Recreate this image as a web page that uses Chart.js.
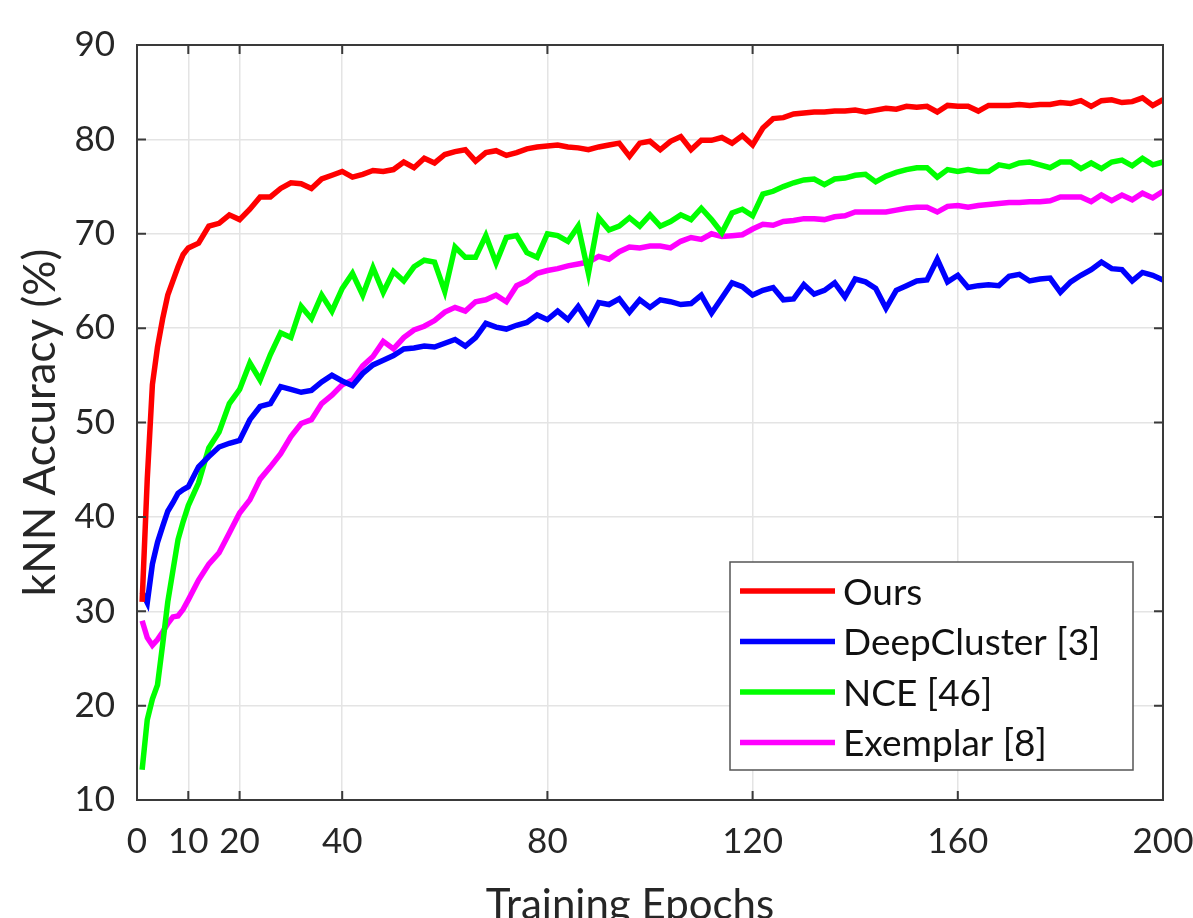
<!DOCTYPE html>
<html>
<head>
<meta charset="utf-8">
<title>kNN Accuracy vs Training Epochs</title>
<script src="https://cdn.jsdelivr.net/npm/chart.js@4.4.1/dist/chart.umd.min.js"></script>
<style>
    html, body { margin: 0; padding: 0; background: #ffffff; }
    #wrap { width: 1193px; height: 918px; position: relative; }
</style>
</head>
<body>
<div id="wrap"><canvas id="knnChart"></canvas></div>
<script>
const epochs = [1, 2, 3, 4, 5, 6, 7, 8, 9, 10,
    12, 14, 16, 18, 20, 22, 24, 26, 28, 30, 32, 34, 36, 38, 40, 42, 44, 46, 48, 50,
    52, 54, 56, 58, 60, 62, 64, 66, 68, 70, 72, 74, 76, 78, 80, 82, 84, 86, 88, 90,
    92, 94, 96, 98, 100, 102, 104, 106, 108, 110, 112, 114, 116, 118, 120, 122, 124, 126, 128, 130,
    132, 134, 136, 138, 140, 142, 144, 146, 148, 150, 152, 154, 156, 158, 160, 162, 164, 166, 168, 170,
    172, 174, 176, 178, 180, 182, 184, 186, 188, 190, 192, 194, 196, 198, 200];

const xTicks = [0, 10, 20, 40, 80, 120, 160, 200];
const xTitle = 'Training Epochs';
const yTitle = 'kNN Accuracy (%)';
const seriesLabels = ['Ours', 'DeepCluster [3]', 'NCE [46]', 'Exemplar [8]'];

const ours = [31.0, 44.0, 54.0, 58.0, 61.0, 63.5, 65.0, 66.5, 67.8, 68.5,
    69.0, 70.8, 71.1, 72.0, 71.5, 72.6, 73.9, 73.9, 74.8, 75.4, 75.3, 74.8, 75.8, 76.2, 76.6, 76.0, 76.3, 76.7, 76.6, 76.8,
    77.6, 77.0, 78.0, 77.5, 78.4, 78.7, 78.9, 77.7, 78.6, 78.8, 78.3, 78.6, 79.0, 79.2, 79.3, 79.4, 79.2, 79.1, 78.9, 79.2,
    79.4, 79.6, 78.2, 79.6, 79.8, 78.9, 79.8, 80.3, 78.9, 79.9, 79.9, 80.2, 79.6, 80.4, 79.4, 81.2, 82.2, 82.3, 82.7, 82.8,
    82.9, 82.9, 83.0, 83.0, 83.1, 82.9, 83.1, 83.3, 83.2, 83.5, 83.4, 83.5, 82.9, 83.6, 83.5, 83.5, 83.0, 83.6, 83.6, 83.6,
    83.7, 83.6, 83.7, 83.7, 83.9, 83.8, 84.1, 83.5, 84.1, 84.2, 83.9, 84.0, 84.4, 83.6, 84.2];

const deepCluster = [32.0, 30.9, 35.0, 37.3, 39.0, 40.6, 41.5, 42.5, 42.9, 43.2,
    45.3, 46.4, 47.4, 47.8, 48.1, 50.3, 51.7, 52.0, 53.8, 53.5, 53.2, 53.4, 54.3, 55.0, 54.4, 53.9, 55.2, 56.1, 56.6, 57.1,
    57.8, 57.9, 58.1, 58.0, 58.4, 58.8, 58.1, 59.0, 60.5, 60.1, 59.9, 60.3, 60.6, 61.4, 60.9, 61.8, 60.9, 62.3, 60.6, 62.7,
    62.5, 63.1, 61.7, 63.0, 62.2, 63.0, 62.8, 62.5, 62.6, 63.5, 61.6, 63.2, 64.8, 64.4, 63.5, 64.0, 64.3, 63.0, 63.1, 64.6,
    63.6, 64.0, 64.8, 63.3, 65.2, 64.9, 64.2, 62.1, 64.0, 64.5, 65.0, 65.1, 67.3, 64.9, 65.6, 64.3, 64.5, 64.6, 64.5, 65.5,
    65.7, 65.0, 65.2, 65.3, 63.8, 64.9, 65.6, 66.2, 67.0, 66.3, 66.2, 65.0, 65.9, 65.6, 65.1];

const nce = [13.2, 18.5, 20.7, 22.2, 26.5, 31.0, 34.3, 37.6, 39.5, 41.2,
    43.6, 47.3, 49.0, 52.0, 53.5, 56.3, 54.5, 57.2, 59.5, 59.0, 62.3, 61.0, 63.5, 61.8, 64.2, 65.8, 63.5, 66.4, 63.8, 66.0,
    65.0, 66.5, 67.2, 67.0, 63.9, 68.6, 67.5, 67.5, 69.8, 66.9, 69.6, 69.8, 68.0, 67.5, 70.0, 69.8, 69.2, 70.8, 65.8, 71.7,
    70.4, 70.8, 71.7, 70.8, 72.0, 70.8, 71.3, 72.0, 71.5, 72.7, 71.5, 70.1, 72.2, 72.6, 71.9, 74.2, 74.5, 75.0, 75.4, 75.7,
    75.8, 75.2, 75.8, 75.9, 76.2, 76.3, 75.5, 76.1, 76.5, 76.8, 77.0, 77.0, 76.0, 76.8, 76.6, 76.8, 76.6, 76.6, 77.3, 77.1,
    77.5, 77.6, 77.3, 77.0, 77.6, 77.6, 76.9, 77.5, 76.9, 77.6, 77.8, 77.2, 78.0, 77.3, 77.6];

const exemplar = [29.0, 27.2, 26.4, 27.0, 27.8, 28.7, 29.4, 29.5, 30.2, 31.2,
    33.3, 35.0, 36.2, 38.3, 40.4, 41.8, 44.0, 45.3, 46.7, 48.5, 49.9, 50.3, 52.0, 52.9, 54.0, 54.5, 56.0, 57.0, 58.6, 57.8,
    59.0, 59.8, 60.2, 60.8, 61.7, 62.2, 61.8, 62.8, 63.0, 63.5, 62.8, 64.5, 65.0, 65.8, 66.1, 66.3, 66.6, 66.8, 67.0, 67.6,
    67.3, 68.1, 68.6, 68.5, 68.7, 68.7, 68.5, 69.2, 69.6, 69.4, 70.0, 69.7, 69.8, 69.9, 70.5, 71.0, 70.9, 71.3, 71.4, 71.6,
    71.6, 71.5, 71.8, 71.9, 72.3, 72.3, 72.3, 72.3, 72.5, 72.7, 72.8, 72.8, 72.3, 72.9, 73.0, 72.8, 73.0, 73.1, 73.2, 73.3,
    73.3, 73.4, 73.4, 73.5, 73.9, 73.9, 73.9, 73.4, 74.1, 73.5, 74.1, 73.6, 74.3, 73.8, 74.5];

const seriesValues = [ours, deepCluster, nce, exemplar];
const seriesColors = ['#ff0000', '#0000ff', '#00ff00', '#ff00ff'];

const FONT = 'Lato, "Open Sans", "DejaVu Sans", sans-serif';
const TEXT_COLOR = '#262626';
const AXIS_COLOR = '#3a3a3a';

const datasets = seriesValues.map((vals, i) => ({
    label: seriesLabels[i],
    data: epochs.map((e, j) => ({ x: e, y: vals[j] })),
    borderColor: seriesColors[i],
    backgroundColor: seriesColors[i],
    borderWidth: 5.5,
    pointRadius: 0,
    tension: 0,
    fill: false
}));

// MATLAB style box: top/right border, inward ticks, x label, legend inside the axes
const boxPlugin = {
    id: 'boxPlugin',
    afterDraw(chart) {
        const { ctx, chartArea: a, scales } = chart;
        ctx.save();
        ctx.strokeStyle = AXIS_COLOR;
        ctx.lineWidth = 2;
        ctx.strokeRect(a.left, a.top, a.right - a.left, a.bottom - a.top);

        const tl = 9;
        ctx.beginPath();
        xTicks.forEach(v => {
            const px = scales.x.getPixelForValue(v);
            ctx.moveTo(px, a.bottom); ctx.lineTo(px, a.bottom - tl);
            ctx.moveTo(px, a.top); ctx.lineTo(px, a.top + tl);
        });
        scales.y.ticks.forEach(t => {
            const py = scales.y.getPixelForValue(t.value);
            ctx.moveTo(a.left, py); ctx.lineTo(a.left + tl, py);
            ctx.moveTo(a.right, py); ctx.lineTo(a.right - tl, py);
        });
        ctx.stroke();

        // x axis label (sits a little left of the axes centre in the original)
        ctx.fillStyle = TEXT_COLOR;
        ctx.font = '42px ' + FONT;
        ctx.textAlign = 'center';
        ctx.textBaseline = 'middle';
        ctx.fillText(xTitle, 630, 905);

        // legend box
        const lx = 730, ly = 562, lw = 403, lh = 208;
        ctx.fillStyle = '#ffffff';
        ctx.fillRect(lx, ly, lw, lh);
        ctx.strokeStyle = '#555555';
        ctx.lineWidth = 1.5;
        ctx.strokeRect(lx, ly, lw, lh);
        ctx.font = '37px ' + FONT;
        ctx.textAlign = 'left';
        chart.data.datasets.forEach((ds, i) => {
            const rowY = ly + 29 + i * 50.5;
            ctx.strokeStyle = ds.borderColor;
            ctx.lineWidth = 5.5;
            ctx.beginPath();
            ctx.moveTo(lx + 10, rowY);
            ctx.lineTo(lx + 105, rowY);
            ctx.stroke();
            ctx.fillStyle = '#111111';
            ctx.fillText(ds.label, lx + 113, rowY + 2);
        });
        ctx.restore();
    }
};

new Chart(document.getElementById('knnChart').getContext('2d'), {
    type: 'line',
    data: { datasets: datasets },
    options: {
        responsive: true,
        maintainAspectRatio: false,
        animation: false,
        layout: { padding: { top: 45, right: 30, left: 0, bottom: 0 } },
        plugins: {
            legend: { display: false },
            tooltip: { enabled: false }
        },
        scales: {
            x: {
                type: 'linear',
                min: 0,
                max: 200,
                afterBuildTicks: scale => { scale.ticks = xTicks.map(v => ({ value: v })); },
                afterFit: scale => {
                    scale.height = 118;
                    scale.paddingLeft = 0;
                    scale.paddingRight = 0;
                },
                grid: { color: '#e4e4e4', lineWidth: 1.5, drawTicks: false },
                border: { display: false },
                ticks: {
                    padding: 21,
                    maxRotation: 0,
                    autoSkip: false,
                    color: TEXT_COLOR,
                    font: { family: FONT, size: 35 }
                }
            },
            y: {
                min: 10,
                max: 90,
                afterFit: scale => { scale.width = 137; },
                grid: { color: '#e4e4e4', lineWidth: 1.5, drawTicks: false },
                border: { display: false },
                ticks: {
                    stepSize: 10,
                    padding: 22,
                    color: TEXT_COLOR,
                    font: { family: FONT, size: 35 }
                },
                title: {
                    display: true,
                    text: yTitle,
                    color: TEXT_COLOR,
                    font: { family: FONT, size: 44, lineHeight: 1 },
                    padding: { top: 19, bottom: 0 }
                }
            }
        }
    },
    plugins: [boxPlugin]
});
</script>
</body>
</html>
